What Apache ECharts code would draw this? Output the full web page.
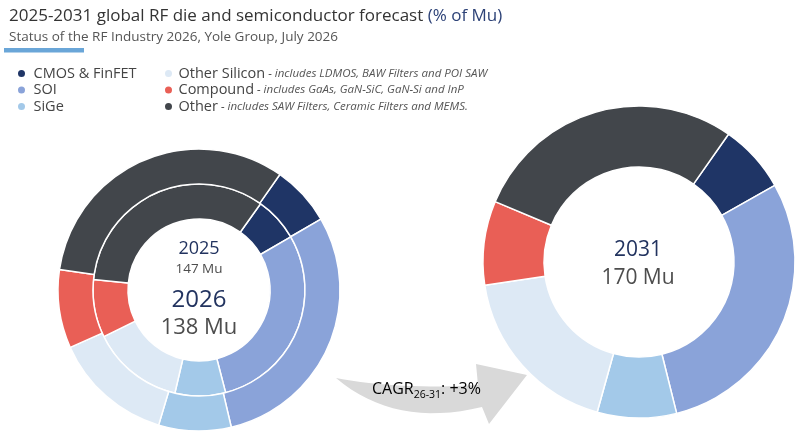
<!DOCTYPE html>
<html>
<head>
<meta charset="utf-8">
<script src="https://cdn.jsdelivr.net/npm/echarts@6/dist/echarts.min.js"></script>
<style>
  html, body { margin: 0; padding: 0; background: #fff; }
  #chart { width: 800px; height: 439px; }
</style>
</head>
<body>
<div id="chart"></div>
<script>
// segments, in clockwise order starting at the CMOS slice
const categories = ['CMOS & FinFET', 'SOI', 'SiGe', 'Other Silicon', 'Compound', 'Other'];
const notes = ['', '', '', 'includes LDMOS, BAW Filters and POI SAW', 'includes GaAs, GaN-SiC, GaN-Si and InP', 'includes SAW Filters, Ceramic Filters and MEMS.'];
const colors = ['#1f3566', '#8aa3d9', '#a3c9e9', '#dde9f5', '#e95f56', '#42464b'];
// share of Mu (%)
const share2025 = [6.8, 29.3, 7.7, 14.1, 8.8, 33.3];
const share2026 = [6.9, 29.7, 8.3, 13.7, 9.0, 32.4];
const share2031 = [7.1, 29.3, 8.2, 18.3, 8.7, 28.4];
const totals = { 2025: '147 Mu', 2026: '138 Mu', 2031: '170 Mu' };
const cagr = '+3%';

const FONT = 'Open Sans';
const NAVY = '#22335f';
const GREY = '#4d4d4d';

const chart = echarts.init(document.getElementById('chart'));

function toData(vals) {
  return vals.map((v, i) => ({ name: categories[i], value: v }));
}

function pie(name, vals, center, radius, start) {
  return {
    name: name,
    type: 'pie',
    center: center,
    radius: radius,
    startAngle: start,
    clockwise: true,
    silent: true,
    label: { show: false },
    labelLine: { show: false },
    itemStyle: { borderColor: '#fff', borderWidth: 1.5 },
    data: toData(vals)
  };
}

function legendFmt(name) {
  const i = categories.indexOf(name);
  return notes[i] ? '{n|' + name + '}{d| - ' + notes[i] + '}' : '{n|' + name + '}';
}

// quadratic curve sampled into points, for the arrow outline
function quad(p0, c, p1, n) {
  const pts = [];
  for (let k = 0; k <= n; k++) {
    const t = k / n;
    pts.push([
      (1 - t) * (1 - t) * p0[0] + 2 * (1 - t) * t * c[0] + t * t * p1[0],
      (1 - t) * (1 - t) * p0[1] + 2 * (1 - t) * t * c[1] + t * t * p1[1]
    ]);
  }
  return pts;
}
const arrowPts = quad([336, 378], [400, 390], [478, 385], 16)
  .concat([[476, 364], [527, 375], [489, 424]])
  .concat(quad([482, 407], [395, 428], [336, 378], 16));

const legendRich = {
  n: { fontFamily: FONT, fontSize: 14.5, color: '#444', lineHeight: 15 },
  d: { fontFamily: FONT, fontSize: 11.5, fontStyle: 'italic', color: '#555', lineHeight: 15 }
};

const option = {
  color: colors,
  animation: false,
  title: {
    left: 4,
    top: 3,
    text: '{a|2025-2031 global RF die and semiconductor forecast }{b|(% of Mu)}',
    subtext: 'Status of the RF Industry 2026, Yole Group, July 2026',
    itemGap: 5,
    textStyle: {
      fontWeight: 'normal',
      rich: {
        a: { fontFamily: FONT, fontSize: 17, fontWeight: 'normal', color: '#333' },
        b: { fontFamily: FONT, fontSize: 17, fontWeight: 'normal', color: '#2d4277' }
      }
    },
    subtextStyle: { fontFamily: FONT, fontSize: 13.5, color: '#555' }
  },
  legend: [
    {
      orient: 'vertical',
      left: 16,
      top: 66,
      padding: 0,
      icon: 'circle',
      itemWidth: 14,
      itemHeight: 9,
      itemGap: 1.5,
      selectedMode: false,
      data: categories.slice(0, 3),
      formatter: legendFmt,
      textStyle: { rich: legendRich }
    },
    {
      orient: 'vertical',
      left: 163,
      top: 66,
      padding: 0,
      icon: 'circle',
      itemWidth: 10,
      itemHeight: 9,
      itemGap: 1.5,
      selectedMode: false,
      data: categories.slice(3),
      formatter: legendFmt,
      textStyle: { rich: legendRich }
    }
  ],
  series: [
    pie('2025', share2025, [199, 290], [71, 106], 54.5),
    pie('2026', share2026, [199, 290], [106, 141], 55),
    pie('2031', share2031, [639, 262], [95, 156], 55)
  ],
  graphic: [
    // blue underline below the subtitle
    { type: 'rect', shape: { x: 4, y: 48, width: 80, height: 4.5 }, style: { fill: '#6aa6d8' } },
    // curved CAGR arrow
    { type: 'polygon', shape: { points: arrowPts }, style: { fill: '#d9d9d9' }, z: 1 },
    {
      type: 'text',
      left: 372, top: 381,
      style: {
        text: '{a|CAGR}{s|26-31}{a|: ' + cagr + '}',
        rich: {
          a: { fontFamily: FONT, fontSize: 16, color: '#3a3a3a', lineHeight: 20, verticalAlign: 'bottom' },
          s: { fontFamily: FONT, fontSize: 10.5, color: '#3a3a3a', lineHeight: 20, verticalAlign: 'bottom', padding: [0, 0, -4, 0] }
        }
      },
      z: 2
    },
    // centre labels, left donut
    { type: 'text', x: 199, y: 249, style: { text: '2025', fontFamily: FONT, fontSize: 18, fill: NAVY, align: 'center', verticalAlign: 'middle' } },
    { type: 'text', x: 199, y: 269, style: { text: totals[2025], fontFamily: FONT, fontSize: 13.5, fill: GREY, align: 'center', verticalAlign: 'middle' } },
    { type: 'text', x: 199, y: 300, style: { text: '2026', fontFamily: FONT, fontSize: 24, fill: NAVY, align: 'center', verticalAlign: 'middle' } },
    { type: 'text', x: 199, y: 328, style: { text: totals[2026], fontFamily: FONT, fontSize: 22, fill: GREY, align: 'center', verticalAlign: 'middle' } },
    // centre labels, right donut
    { type: 'text', x: 638, y: 250, style: { text: '2031', fontFamily: FONT, fontSize: 21, fill: NAVY, align: 'center', verticalAlign: 'middle' } },
    { type: 'text', x: 638, y: 278, style: { text: totals[2031], fontFamily: FONT, fontSize: 21, fill: GREY, align: 'center', verticalAlign: 'middle' } }
  ]
};

chart.setOption(option);
</script>
</body>
</html>
